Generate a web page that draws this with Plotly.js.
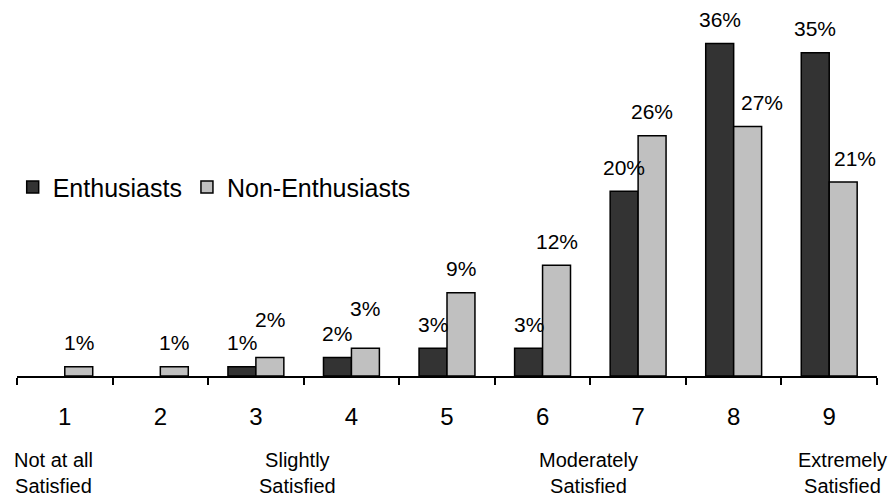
<!DOCTYPE html>
<html>
<head>
<meta charset="utf-8">
<script src="https://cdn.plot.ly/plotly-3.0.1.min.js"></script>
<style>html,body{margin:0;padding:0;background:#fff;}#chart{width:890px;height:499px;}</style>
</head>
<body>
<div id="chart"></div>
<script>
// ---- data ----
const categories = ['1','2','3','4','5','6','7','8','9'];
const enthusiasts = [null, null, 1, 2, 3, 3, 20, 36, 35];
const nonEnthusiasts = [1, 1, 2, 3, 9, 12, 26, 27, 21];
const seriesNames = ['Enthusiasts', 'Non-Enthusiasts'];
const scaleLabels = ['Not at all<br>Satisfied', 'Slightly<br>Satisfied', 'Moderately<br>Satisfied', 'Extremely<br>Satisfied'];
const scaleLabelCats = ['1', '3', '6', '9'];

// ---- layout helpers ----
const W = 890, H = 499;
const margin = {l: 17, r: 13, t: 25, b: 123};
const bargap = 0.415;
const catWidth = (W - margin.l - margin.r) / categories.length;
const barOffset = (1 - bargap) * catWidth / 4;
// small label nudges (pixels) for the non-enthusiast value labels
const labelNudgeNon = {'3': [0, 14], '4': [0, 16], '8': [14, 0], '9': [12, 0]};
const scaleLabelShift = [-11, 42, 46, 13];

const font = 'Arial, "Liberation Sans", Helvetica, sans-serif';

const traces = [
  {type: 'bar', name: seriesNames[0], x: categories, y: enthusiasts,
   marker: {color: '#333333', line: {color: '#000', width: 1.5}}, hoverinfo: 'skip'},
  {type: 'bar', name: seriesNames[1], x: categories, y: nonEnthusiasts,
   marker: {color: '#c0c0c0', line: {color: '#000', width: 1.5}}, hoverinfo: 'skip'}
];

const annotations = [];
categories.forEach((c, i) => {
  if (enthusiasts[i] != null) {
    annotations.push({x: i, y: enthusiasts[i], xref: 'x', yref: 'y', text: enthusiasts[i] + '%',
      showarrow: false, xshift: -barOffset, yshift: 24, yanchor: 'middle',
      font: {family: font, size: 21, color: '#000'}});
  }
  if (nonEnthusiasts[i] != null) {
    const n = labelNudgeNon[c] || [0, 0];
    annotations.push({x: i, y: nonEnthusiasts[i], xref: 'x', yref: 'y', text: nonEnthusiasts[i] + '%',
      showarrow: false, xshift: barOffset + n[0], yshift: 24 + n[1], yanchor: 'middle',
      font: {family: font, size: 21, color: '#000'}});
  }
});
scaleLabels.forEach((t, i) => {
  annotations.push({x: categories.indexOf(scaleLabelCats[i]), y: 0, xref: 'x', yref: 'paper', text: t,
    showarrow: false, xshift: scaleLabelShift[i], yshift: -97, yanchor: 'middle', align: 'center',
    font: {family: font, size: 20, color: '#000'}});
});

const layout = {
  width: W, height: H, margin: margin,
  paper_bgcolor: '#fff', plot_bgcolor: '#fff',
  barmode: 'group', bargap: bargap, bargroupgap: 0,
  showlegend: true,
  legend: {orientation: 'h', x: -0.005, xanchor: 'left', y: 0.538, yanchor: 'middle',
    font: {family: font, size: 25, color: '#000'}, bgcolor: 'rgba(0,0,0,0)', itemwidth: 30},
  xaxis: {type: 'category', range: [-0.5, categories.length - 0.5], tickson: 'boundaries',
    ticks: 'outside', ticklen: 7, tickwidth: 2,
    tickcolor: '#000', showline: true, linecolor: '#000', linewidth: 2, showgrid: false,
    zeroline: false, ticklabelstandoff: 18, tickfont: {family: font, size: 24, color: '#000'},
    fixedrange: true},
  yaxis: {range: [0, 38], visible: false, showgrid: false, zeroline: false, fixedrange: true},
  annotations: annotations
};

Plotly.newPlot('chart', traces, layout, {displayModeBar: false, staticPlot: true});
</script>
</body>
</html>
